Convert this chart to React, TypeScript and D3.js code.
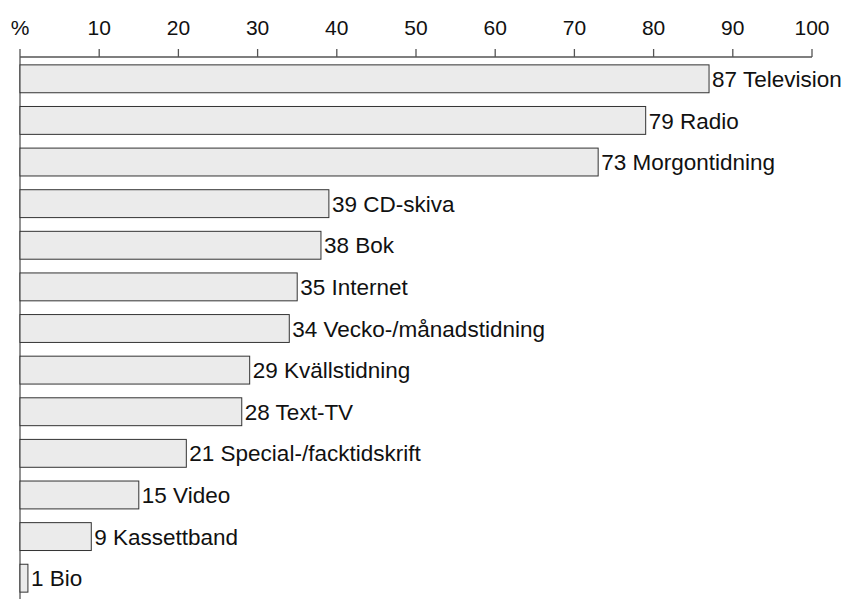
import React, { useEffect, useRef } from 'react';
import * as d3 from 'd3';

const categories = [
  'Television', 'Radio', 'Morgontidning', 'CD-skiva', 'Bok', 'Internet',
  'Vecko-/månadstidning', 'Kvällstidning', 'Text-TV', 'Special-/facktidskrift',
  'Video', 'Kassettband', 'Bio',
];
const values = [87, 79, 73, 39, 38, 35, 34, 29, 28, 21, 15, 9, 1];
const tickValues = [0, 10, 20, 30, 40, 50, 60, 70, 80, 90, 100];

const App: React.FC = () => {
  const svgRef = useRef<SVGSVGElement>(null);

  useEffect(() => {
    if (!svgRef.current) return;
    const svg = d3.select(svgRef.current);
    svg.selectAll('*').remove();

    const height = 599;
    const axisY = 57;
    const font = 'Liberation Sans, Arial, Helvetica, sans-serif';

    const x = d3.scaleLinear().domain([0, 100]).range([20, 812]);
    const y = d3.scaleBand()
      .domain(categories)
      .range([58, 599])
      .paddingInner(0.33)
      .paddingOuter(0.165);

    // top axis
    const axis = svg.append('g');
    axis.append('line')
      .attr('x1', x(0)).attr('x2', x(100))
      .attr('y1', axisY).attr('y2', axisY)
      .attr('stroke', '#555').attr('stroke-width', 1.3);
    axis.selectAll('line.tick')
      .data(tickValues.slice(1))
      .enter()
      .append('line')
      .attr('class', 'tick')
      .attr('x1', d => x(d)).attr('x2', d => x(d))
      .attr('y1', axisY - 8).attr('y2', axisY)
      .attr('stroke', '#555').attr('stroke-width', 1.3);
    axis.selectAll('text')
      .data(tickValues)
      .enter()
      .append('text')
      .attr('x', d => x(d))
      .attr('y', 35)
      .attr('text-anchor', 'middle')
      .attr('font-family', font)
      .attr('font-size', 21)
      .attr('fill', '#111')
      .text(d => (d === 0 ? '%' : String(d)));

    // vertical baseline
    svg.append('line')
      .attr('x1', x(0)).attr('x2', x(0))
      .attr('y1', axisY - 8).attr('y2', height)
      .attr('stroke', '#555').attr('stroke-width', 1.3);

    const data = categories.map((c, i) => ({ c, v: values[i] }));

    svg.selectAll('rect')
      .data(data)
      .enter()
      .append('rect')
      .attr('x', x(0))
      .attr('y', d => y(d.c) || 0)
      .attr('width', d => x(d.v) - x(0))
      .attr('height', y.bandwidth())
      .attr('fill', '#ebebeb')
      .attr('stroke', '#333')
      .attr('stroke-width', 1);

    svg.selectAll('text.label')
      .data(data)
      .enter()
      .append('text')
      .attr('class', 'label')
      .attr('x', d => x(d.v) + 3)
      .attr('y', d => (y(d.c) || 0) + y.bandwidth() / 2)
      .attr('dy', '0.36em')
      .attr('font-family', font)
      .attr('font-size', 22.5)
      .attr('fill', '#111')
      .text(d => `${d.v} ${d.c}`);
  }, []);

  return (
    <svg
      ref={svgRef}
      width={847}
      height={599}
      viewBox="0 0 847 599"
      style={{ position: 'absolute', left: 0, top: 0, background: '#fff' }}
    />
  );
};

export default App;
